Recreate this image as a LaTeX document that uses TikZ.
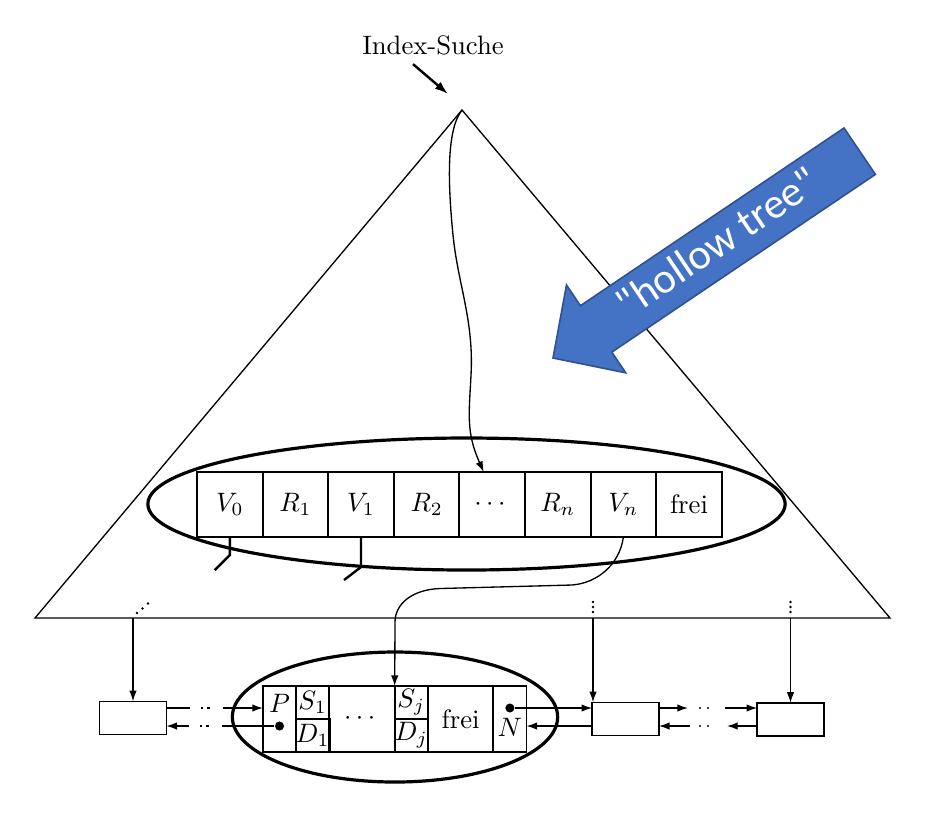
\documentclass[tikz,border=0pt]{standalone}
\usepackage{amsmath,amssymb}
\usepackage{fontspec}
\newfontfamily\hollowfont{Carlito}
\usepackage{tikz}
\usetikzlibrary{arrows.meta,positioning,calc,shapes.geometric}
\definecolor{hollowBlue}{HTML}{4472C4}
\definecolor{hollowEdge}{HTML}{2F528F}

\begin{document}
\begin{tikzpicture}[x=0.375pt,y=-0.375pt,font=\normalsize,
  cell/.style={draw,line width=0.7pt,minimum width=24.6pt,minimum height=24.4pt,
               inner sep=0pt,outer sep=0pt},
  bcell/.style={cell,minimum height=24.75pt},
  slot/.style={bcell,minimum width=12.4pt},
  half/.style={cell,minimum width=12.4pt,minimum height=12.375pt},
  sidebox/.style={draw,line width=0.6pt,minimum width=25pt,minimum height=12.5pt,
                  inner sep=0pt,outer sep=0pt},
  ring/.style={draw,ellipse,line width=1.2pt,inner sep=0pt},
  link/.style={line width=0.5pt,-{Latex[length=4pt,width=2.8pt]}},
  tick/.style={line width=0.9pt},
  bullet/.style={circle,fill,inner sep=0pt,minimum size=3.4pt}]
  \useasboundingbox (0,0) rectangle (926,824);
  \coordinate (apex) at (462,110);
  \coordinate (baseL) at (35,618);
  \coordinate (baseR) at (890,618);
  \coordinate (up) at (0,708);
  \coordinate (lo) at (0,726);
  \draw[line width=0.5pt] (baseL) -- (apex) -- (baseR) -- cycle;

  \node (search) at (433,45) {Index-Suche};
  \coordinate (searchtip) at (448,94);
  \draw[line width=0.9pt,-{Latex[length=5pt,width=3.4pt]}]
    ([xshift=-7.5pt]search.south) -- (searchtip);

  \node[ring,minimum width=239pt,minimum height=49.5pt] (nodering) at (466.5,504) {};
  \node[cell] (v0) at (229.8,504.5) {$V_0$};
  \node[cell,right=0pt of v0] (r1) {$R_1$};
  \node[cell,right=0pt of r1] (v1) {$V_1$};
  \node[cell,right=0pt of v1] (r2) {$R_2$};
  \node[cell,right=0pt of r2] (rdots) {$\cdots$};
  \node[cell,right=0pt of rdots] (rn) {$R_n$};
  \node[cell,right=0pt of rn] (vn) {$V_n$};
  \node[cell,right=0pt of vn] (vfrei) {frei};
  \draw[tick] (v0.south) -- ++(0,18) -- ++(-15,15);
  \draw[tick] (v1.south) -- ++(0,30) -- ++(-17,13);

  \draw[link] (apex) .. controls (446,130) and (448,185) .. (453,235)
    .. controls (458,285) and (474,320) .. (471,375)
    .. controls (469,415) and (466,432) .. ([xshift=-3.2pt]rdots.north);

  \node[ring,minimum width=122pt,minimum height=48.75pt] (leafring) at (395,717) {};
  \node[slot] (p) at (279.5,719) {};
  \node[half,anchor=north west] (s1) at (p.north east) {$S_1$};
  \node[half,below=0pt of s1] (d1) {$D_1$};
  \node[bcell,anchor=north west] (bdots) at (s1.north east) {$\cdots$};
  \node[half,anchor=north west] (sj) at (bdots.north east) {$S_j$};
  \node[half,below=0pt of sj] (dj) {$D_j$};
  \node[bcell,anchor=north west] (bfrei) at (sj.north east) {frei};
  \node[slot,anchor=north west] (n) at (bfrei.north east) {};
  \node (plabel) at ($(p.center)+(0,6pt)$) {$P$};
  \node[bullet] (pdot) at (p.center |- lo) {};
  \node (nlabel) at ($(n.center)+(0,-3pt)$) {$N$};
  \node[bullet] (ndot) at (n.center |- up) {};

  \draw[link] (vn.south) .. controls +(-4,28) and +(25,-2) .. (572,585)
    -- (440,588.5) .. controls +(-28,1) and +(0,-18) .. (395,622) -- (sj.north west);

  \node[sidebox] (lbox) at (133,718) {};
  \node[sidebox] (mbox) at (625.5,719) {};
  \node[sidebox] (rbox) at (790.5,719.5) {};

  \coordinate (lleaf) at (133,618);
  \coordinate (mleaf) at (593,618);
  \coordinate (rleaf) at (790.5,618);
  \draw[link] (lleaf) -- (lbox.north);
  \draw[link] (mleaf) -- (mleaf |- mbox.north);
  \draw[link] (rleaf) -- (rbox.north);
  \fill (137,613) circle[radius=0.5pt] (142.5,608.5) circle[radius=0.5pt]
        (148,603.5) circle[radius=0.5pt];
  \fill (593,602) circle[radius=0.5pt] (593,607) circle[radius=0.5pt]
        (593,612) circle[radius=0.5pt];
  \fill (790.5,602) circle[radius=0.5pt] (790.5,607) circle[radius=0.5pt]
        (790.5,612) circle[radius=0.5pt];

  \draw[link,dash pattern=on 9pt off 4pt on 0.8pt off 1.6pt on 0.8pt off 5pt on 40pt]
    (lbox.east |- up) -- (p.west |- up);
  \draw[link,dash pattern=on 19.7pt off 5pt on 0.8pt off 1.6pt on 0.8pt off 4pt on 40pt]
    (pdot) -- (lbox.east |- lo);
  \draw[link] (ndot) -- (mbox.west |- up);
  \draw[link] (mbox.west |- lo) -- (n.east |- lo);

  \coordinate (gapA) at (688,708);
  \coordinate (gapB) at (725,708);
  \coordinate (gapC) at (727,726);
  \coordinate (gapD) at (690,726);
  \draw[link] (mbox.east |- up) -- (gapA);
  \draw[link] (gapB) -- (rbox.west |- up);
  \draw[link] (rbox.west |- lo) -- (gapC);
  \draw[link] (gapD) -- (mbox.east |- lo);
  \fill (700,708) circle[radius=0.45pt] (708,708) circle[radius=0.45pt]
        (700,726) circle[radius=0.45pt] (708,726) circle[radius=0.45pt];

  \fill[hollowBlue,draw=hollowEdge,line width=0.6pt]
    (844,128) -- (580.4,305.7) -- (566.5,285) -- (553,358) -- (625.7,372.8)
    -- (611.8,352.1) -- (875.4,174.4) -- cycle;
  \node[text=white,font=\hollowfont\fontsize{16}{19}\selectfont,rotate=34,inner sep=0pt]
    (hollowtxt) at (717,242) {"hollow tree"};
\end{tikzpicture}
\end{document}
